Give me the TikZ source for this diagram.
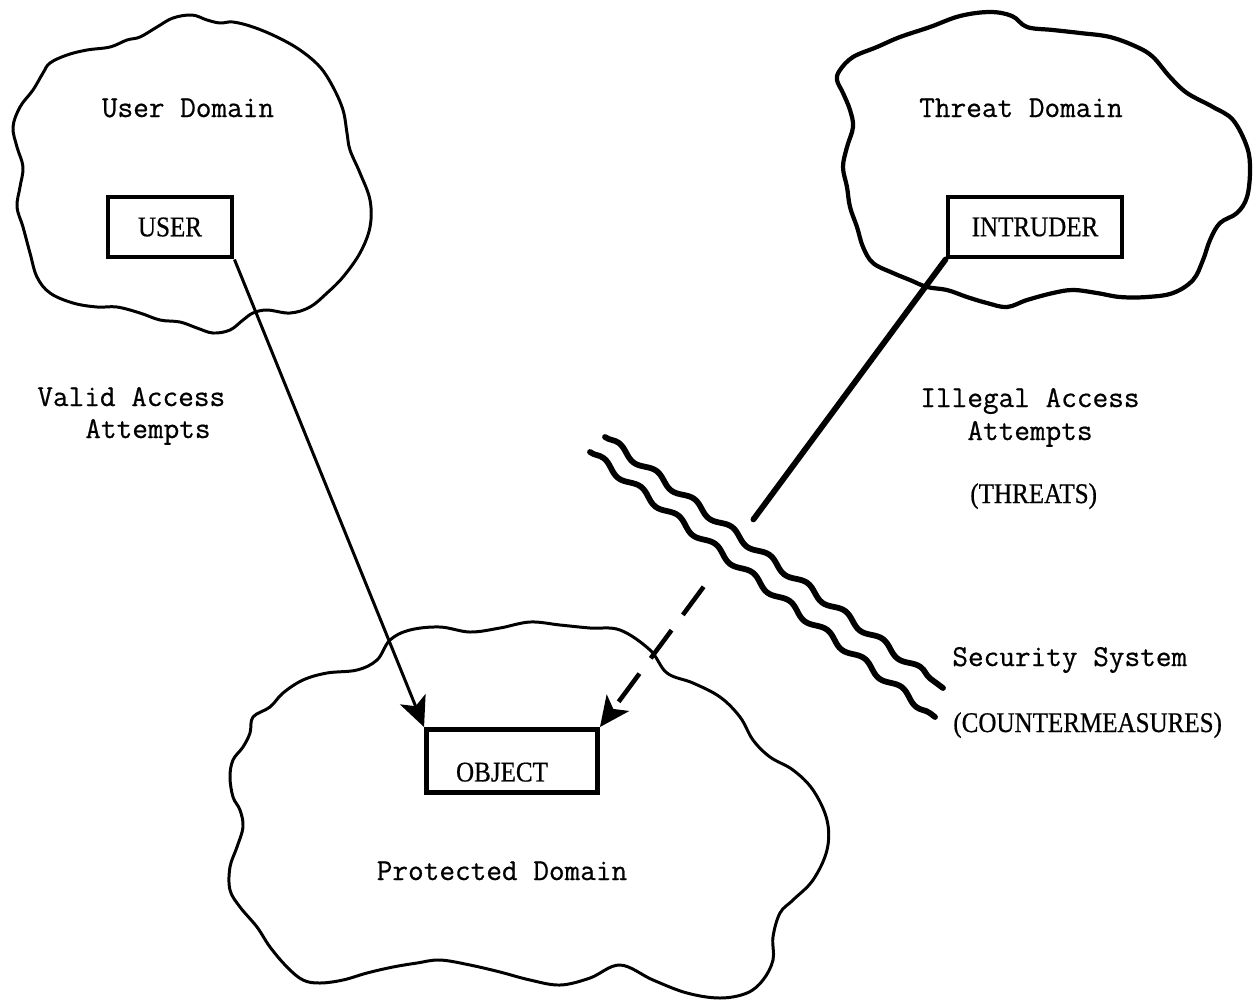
\documentclass[tikz,border=0pt]{standalone}
\usepackage{fontspec}
\newfontfamily\capsfont{Liberation Serif}[FakeStretch=0.88,FakeBold=0.6]
\newfontfamily\typefont{Latin Modern Mono}[FakeBold=0.6]
\usepackage{tikz}
\usetikzlibrary{arrows.meta,positioning,calc,decorations.pathmorphing}

\begin{document}
\begin{tikzpicture}[x=0.02cm,y=-0.02cm,
    typed/.style={font=\typefont\fontsize{17.3}{20}\selectfont,inner sep=0pt},
    capstext/.style={font=\capsfont\fontsize{16.2}{19}\selectfont,inner sep=0pt},
    box/.style={capstext,draw,line width=2.8pt,minimum height=1.2cm},
    cloudline/.style={line width=1.7pt,line join=round},
    barrier/.style={line width=3.3pt,line cap=round,decorate,decoration={snake,segment length=0.94cm,amplitude=0.07cm}},
    access/.style={-{Stealth[length=0.6cm,width=0.55cm,inset=0.15cm]}}]
    \useasboundingbox (0,0) rectangle (1258,1002);
    \draw[cloudline] plot[smooth cycle,tension=0.6] coordinates {(50,63) (67,55) (87,50) (110,47) (127,40) (140,37) (157,27) (173,18) (192,15) (207,20) (220,23) (233,22) (253,27) (277,37) (300,50) (320,67) (333,87) (343,110) (347,133) (350,150) (360,173) (370,200) (370,227) (360,253) (343,277) (327,293) (310,307) (290,313) (267,310) (253,313) (243,320) (230,330) (213,333) (197,328) (180,322) (160,320) (140,313) (117,307) (97,307) (73,303) (50,293) (37,277) (30,253) (23,227) (17,207) (20,187) (23,167) (17,147) (13,127) (20,107) (33,90) (43,73)};
    \draw[cloudline,line width=2.4pt] plot[smooth cycle,tension=0.6] coordinates {(840,70) (853,57) (877,47) (900,37) (930,27) (960,16) (990,12) (1012,16) (1027,27) (1053,30) (1080,33) (1110,37) (1137,47) (1153,57) (1170,77) (1187,93) (1213,107) (1233,120) (1247,147) (1250,170) (1247,197) (1237,213) (1220,223) (1210,240) (1203,260) (1193,280) (1173,293) (1147,297) (1120,297) (1097,293) (1073,290) (1053,293) (1027,300) (1007,307) (987,303) (967,297) (947,290) (927,287) (910,280) (893,273) (873,263) (863,247) (857,227) (850,207) (847,187) (843,167) (847,147) (853,127) (850,110) (843,93) (837,80)};
    \draw[cloudline] plot[smooth cycle,tension=0.6] coordinates {(390,640) (410,630) (440,627) (470,632) (500,628) (530,622) (560,625) (590,628) (620,630) (650,650) (667,673) (693,683) (720,697) (740,717) (753,740) (770,757) (793,770) (813,790) (827,820) (827,850) (813,880) (793,900) (780,913) (773,937) (773,960) (763,980) (747,993) (720,998) (687,993) (653,980) (620,965) (590,978) (560,985) (530,980) (500,972) (470,965) (440,960) (417,963) (393,967) (367,973) (343,980) (320,983) (303,980) (287,967) (270,947) (257,927) (240,907) (230,890) (230,867) (237,847) (243,827) (240,810) (233,797) (230,777) (233,760) (243,747) (250,733) (253,717) (270,707) (283,693) (303,680) (327,673) (357,670) (377,660)};

    \node[typed,anchor=base] (userdom) at (188,117) {User Domain};
    \node[typed,anchor=base] (threatdom) at (1021,117) {Threat Domain};
    \node[typed,anchor=base] (protdom) at (502,880) {Protected Domain};
    \node[box,minimum width=2.48cm] (user) at (170,227) {USER};
    \node[box,minimum width=3.48cm] (intruder) at (1035,227) {INTRUDER};
    \node[box,minimum width=3.42cm,minimum height=1.26cm] (object) at (512,761) {\raisebox{-0.22cm}[\height][0pt]{\hspace*{-0.4cm}OBJECT}};

    \node[typed,anchor=base west] (valid) at (37,406) {Valid Access};
    \node[typed,anchor=base west] (validatt) at (85,438) {Attempts};
    \node[typed,anchor=base west] (illegal) at (920,407) {Illegal Access};
    \node[typed,anchor=base west] (illegalatt) at (967,440) {Attempts};
    \node[capstext,anchor=base west] (threats) at (970,503) {(THREATS)};
    \node[typed,anchor=base west] (secsys) at (952,666) {Security System};
    \node[capstext,anchor=base west] (counter) at (953,732) {(COUNTERMEASURES)};

    \draw[barrier] (605,437) -- (943,688);
    \draw[barrier] (590,452) -- (935,717);

    \coordinate (cut) at ($(intruder.south west)!0.556!(object.north east)$);
    \coordinate (pass) at ($(intruder.south west)!0.70!(object.north east)$);
    \draw[access,line width=1.7pt] (user.south east) -- (object.north west);
    \draw[line width=3.3pt,line cap=round] (intruder.south west) -- (cut);
    \draw[access,line width=2.6pt,dash pattern=on 0.7cm off 0.38cm] (pass) -- (object.north east);
\end{tikzpicture}
\end{document}
